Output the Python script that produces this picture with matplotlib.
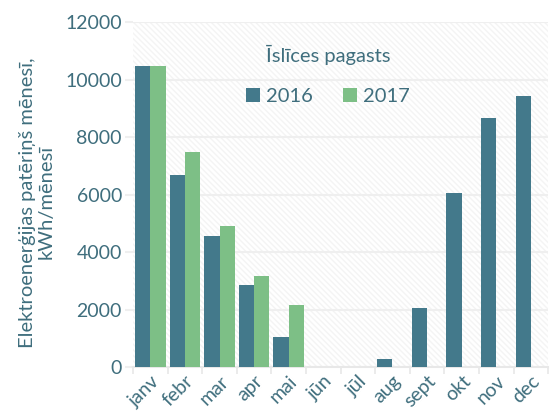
import matplotlib
matplotlib.use("Agg")
import matplotlib.pyplot as plt
import numpy as np
from matplotlib.patches import Rectangle

months = ["janv", "febr", "mar", "apr", "mai", "jūn", "jūl", "aug", "sept", "okt", "nov", "dec"]
v2016 = [10480, 6690, 4560, 2850, 1040, 0, 0, 280, 2060, 6060, 8680, 9440]
v2017 = [10480, 7480, 4920, 3160, 2150, np.nan, np.nan, np.nan, np.nan, np.nan, np.nan, np.nan]
yticks = [0, 2000, 4000, 6000, 8000, 10000, 12000]

txt = "#3f6e7d"
c16 = "#43798b"
c17 = "#7dbf86"
plt.rcParams['font.family'] = ['Lato', 'DejaVu Sans']

fig = plt.figure(figsize=(5.52, 4.16), dpi=100)
ax = fig.add_axes([0.241, 0.118, 0.752, 0.828])
x = np.arange(len(months))
w = 0.44
ax.add_patch(Rectangle((0, 0), 1, 1, transform=ax.transAxes, facecolor="white",
                       edgecolor="#f4f4f4", hatch="\\\\\\\\\\\\", linewidth=0, zorder=0))
ax.bar(x - w/2, v2016, width=w, color=c16, label="2016", zorder=3)
ax.bar(x + w/2, v2017, width=w, color=c17, label="2017", zorder=3)
ax.set_xlim(-0.5, len(months) - 0.5)
ax.set_ylim(0, 12000)
ax.set_yticks(yticks)
ax.set_yticklabels([str(t) for t in yticks], fontsize=14, color=txt)
ax.grid(axis="y", color="#efefef", linewidth=1.5, zorder=1)
ax.set_axisbelow(True)
ax.set_xticks(x)
ax.set_xticklabels(months, rotation=45, ha="right", rotation_mode="anchor", fontsize=14, color=txt)
ax.tick_params(axis="x", length=0, pad=4)
ax.set_xticks(np.arange(-0.5, len(months)), minor=True)
ax.tick_params(axis="x", which="minor", length=5, color="#e8e8e8", width=1.2)
ax.tick_params(axis="y", length=6, color="#efefef", width=1.5, pad=2)
for s in ["top", "right", "left"]:
    ax.spines[s].set_visible(False)
ax.spines["bottom"].set_color("#e8e8e8")
ax.spines["bottom"].set_linewidth(1.5)
ax.set_ylabel("Elektroenerģijas patēriņš mēnesī,\nkWh/mēnesī", fontsize=14.5, color=txt, linespacing=1.1)
ax.yaxis.set_label_coords(-0.19, 0.478)
ax.text(0.47, 0.905, "Īslīces pagasts", transform=ax.transAxes, ha="center", va="center",
        fontsize=14.5, color=txt)
leg = ax.legend(loc="center", bbox_to_anchor=(0.47, 0.785), ncol=2, frameon=False, fontsize=14.5,
                handlelength=0.7, handleheight=0.7, handletextpad=0.3, columnspacing=1.5)
for t in leg.get_texts():
    t.set_color(txt)
fig.savefig("out.png", dpi=100)
